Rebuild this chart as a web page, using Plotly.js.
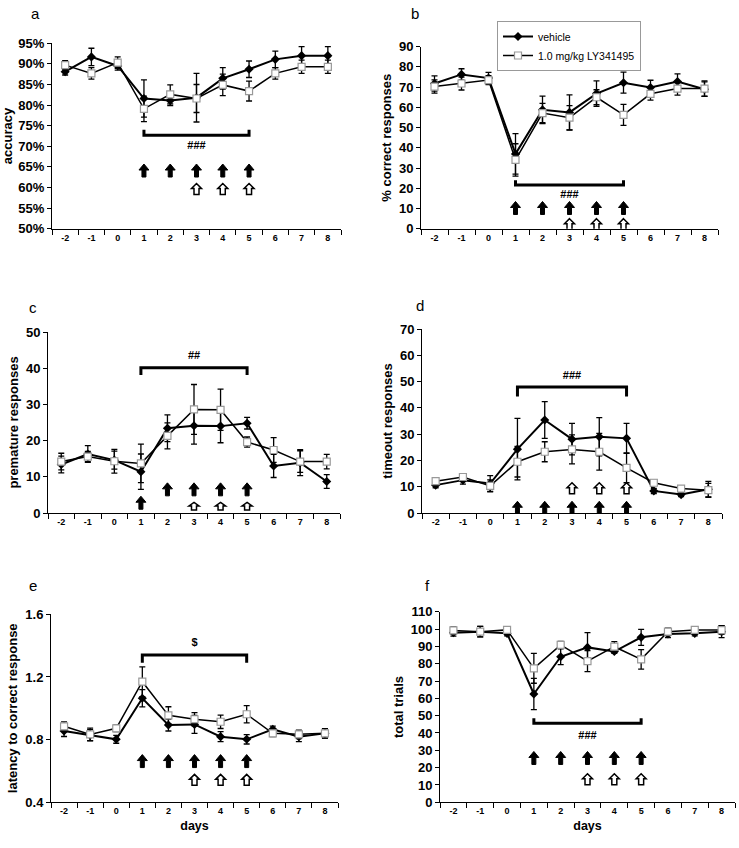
<!DOCTYPE html>
<html>
<head>
<meta charset="utf-8">
<script src="https://cdn.plot.ly/plotly-3.0.1.min.js"></script>
<style>html,body{margin:0;padding:0;background:#fff;}#chart{width:739px;height:848px;}</style>
</head>
<body>
<div id="chart"></div>
<script>
// ---------- data ----------
const days = [-2, -1, 0, 1, 2, 3, 4, 5, 6, 7, 8];
const seriesNames = ['vehicle', '1.0 mg/kg LY341495'];

const accuracyVeh    = [88.1, 91.7, 89.5, 81.6, 81.1, 81.8, 86.5, 88.7, 91.1, 92.0, 92.0];
const accuracyVehErr = [0.8, 2.1, 1.0, 4.5, 1.2, 5.9, 2.6, 2.0, 2.0, 2.2, 2.2];
const accuracyLY     = [89.7, 87.7, 90.3, 79.1, 82.6, 81.6, 84.9, 83.4, 87.7, 89.3, 89.3];
const accuracyLYErr  = [1.1, 1.4, 1.4, 3.1, 2.3, 3.4, 2.6, 2.4, 1.4, 1.6, 1.6];

const correctVeh    = [71.8, 76.3, 74.5, 37.0, 58.8, 57.5, 66.8, 72.2, 69.8, 72.8, 69.0];
const correctVehErr = [3.8, 2.8, 2.8, 10.0, 6.8, 8.7, 6.3, 5.2, 3.6, 3.8, 3.6];
const correctLY     = [70.3, 71.8, 73.5, 34.0, 57.2, 54.9, 65.0, 56.3, 66.7, 69.3, 69.3];
const correctLYErr  = [3.3, 3.2, 2.2, 8.0, 4.8, 6.0, 3.7, 5.2, 3.1, 3.2, 3.8];

const prematureVeh    = [13.4, 16.3, 14.6, 11.4, 23.4, 24.1, 24.0, 24.8, 13.0, 13.9, 8.7];
const prematureVehErr = [2.3, 2.3, 2.5, 4.9, 3.7, 5.1, 4.6, 1.6, 3.2, 3.6, 1.9];
const prematureLY     = [14.2, 15.6, 14.3, 13.7, 21.3, 28.6, 28.5, 19.6, 17.4, 14.2, 14.2];
const prematureLYErr  = [2.3, 1.4, 3.3, 5.3, 3.6, 6.9, 5.7, 1.4, 3.4, 3.0, 2.0];

const timeoutVeh    = [10.6, 12.5, 11.2, 24.3, 35.4, 28.1, 29.0, 28.4, 8.4, 7.0, 9.0];
const timeoutVehErr = [1.0, 1.5, 3.0, 11.7, 7.0, 6.0, 7.3, 5.7, 1.0, 0.8, 3.0];
const timeoutLY     = [12.1, 13.7, 10.3, 19.5, 23.3, 24.2, 23.3, 17.2, 11.5, 9.3, 8.7];
const timeoutLYErr  = [1.0, 1.2, 2.3, 5.8, 3.8, 5.5, 7.0, 5.7, 1.0, 0.8, 2.6];

const latencyVeh    = [0.855, 0.829, 0.802, 1.064, 0.893, 0.897, 0.819, 0.802, 0.866, 0.819, 0.840];
const latencyVehErr = [0.035, 0.035, 0.025, 0.055, 0.038, 0.057, 0.032, 0.030, 0.020, 0.032, 0.030];
const latencyLY     = [0.885, 0.833, 0.872, 1.170, 0.955, 0.930, 0.914, 0.962, 0.840, 0.834, 0.840];
const latencyLYErr  = [0.028, 0.040, 0.020, 0.095, 0.055, 0.042, 0.043, 0.055, 0.020, 0.027, 0.030];

const trialsVeh    = [97.9, 98.5, 97.5, 62.5, 84.0, 89.4, 87.0, 95.2, 97.1, 97.5, 98.5];
const trialsVehErr = [2.0, 3.0, 1.5, 9.0, 4.5, 8.5, 1.0, 4.6, 2.0, 1.5, 3.5];
const trialsLY     = [99.2, 98.5, 99.5, 77.3, 90.8, 81.5, 89.8, 82.5, 98.5, 99.5, 99.4];
const trialsLYErr  = [2.0, 3.0, 1.5, 8.6, 2.0, 6.1, 2.9, 5.6, 2.0, 1.5, 2.5];

const bracketDays = [1, 5];
const blackArrowDays = [1, 2, 3, 4, 5];
const whiteArrowDays = [3, 4, 5];

// ---------- styling / layout ----------
const W = 739, H = 848;
const FONT = 'Liberation Sans, Arial, sans-serif';
// arrow glyph outlines in pixels (relative to anchor)
const BLACK_ARROW = 'M0,7 L5,1 L2,1 L2,-6 L-2,-6 L-2,1 L-5,1 Z';
const WHITE_ARROW = 'M0,6 L5,1 L2.5,1 L2.5,-5 L-2.5,-5 L-2.5,1 L-5,1 Z';
const WHITE_ARROW_FLAT = 'M0,4 L5,0.5 L2.5,0.5 L2.5,-3.5 L-2.5,-3.5 L-2.5,0.5 L-5,0.5 Z';

const panels = [
  {id:'', letter:'a', lx:35, ly:13, title:'accuracy', veh:accuracyVeh, vehErr:accuracyVehErr, lyv:accuracyLY, lyErr:accuracyLYErr,
   px:[52,341], py:[43.3,228.7], range:[50,95], dtick:5, suffix:'%', fmt:'',
   br:{y:72.7, end:74.0, lab:'###', labY:69.9}, blackY:64.0, whiteY:59.5, xdays:false, legend:false},
  {id:'2', letter:'b', lx:415, ly:13, title:'% correct responses', veh:correctVeh, vehErr:correctVehErr, lyv:correctLY, lyErr:correctLYErr,
   px:[421,718], py:[46.7,228.7], range:[0,90], dtick:10, suffix:'', fmt:'',
   br:{y:21.6, end:24.0, lab:'###', labY:16.3}, blackY:10.0, whiteY:2.0, xdays:false, legend:true},
  {id:'3', letter:'c', lx:33, ly:307, title:'premature responses', veh:prematureVeh, vehErr:prematureVehErr, lyv:prematureLY, lyErr:prematureLYErr,
   px:[48,340], py:[332,513], range:[0,50], dtick:10, suffix:'', fmt:'',
   br:{y:40.1, end:38.1, lab:'##', labY:43.2}, blackY:6.4, blackY1:2.7, whiteY:1.8, flatWhite:true, xdays:false, legend:false},
  {id:'4', letter:'d', lx:420, ly:305, title:'timeout responses', veh:timeoutVeh, vehErr:timeoutVehErr, lyv:timeoutLY, lyErr:timeoutLYErr,
   px:[422,722], py:[329,513], range:[0,70], dtick:10, suffix:'', fmt:'',
   br:{y:47.9, end:44.3, lab:'###', labY:52.0}, blackY:1.8, whiteY:9.2, xdays:false, legend:false},
  {id:'5', letter:'e', lx:33, ly:585, title:'latency to correct response', veh:latencyVeh, vehErr:latencyVehErr, lyv:latencyLY, lyErr:latencyLYErr,
   px:[51,338], py:[614.3,802.3], range:[0.4,1.6], dtick:0.4, suffix:'', fmt:'.1f',
   br:{y:1.34, end:1.29, lab:'$', labY:1.415}, blackY:0.66, whiteY:0.54, xdays:true, legend:false},
  {id:'6', letter:'f', lx:427, ly:585, title:'total trials', veh:trialsVeh, vehErr:trialsVehErr, lyv:trialsLY, lyErr:trialsLYErr,
   px:[440,735], py:[611.7,802.3], range:[0,110], dtick:10, suffix:'', fmt:'',
   br:{y:45.6, end:48.5, lab:'###', labY:37.9}, blackY:25.3, whiteY:13.0, xdays:true, legend:false}
];

const traces = [];
const layout = {
  width: W, height: H,
  margin: {l:0, r:0, t:0, b:0},
  paper_bgcolor: '#fff', plot_bgcolor: '#fff',
  font: {family: FONT, color: '#000'},
  showlegend: true,
  legend: {x: 497/W, y: 1 - 21/H, xanchor: 'left', yanchor: 'top',
           bgcolor: '#fff', bordercolor: '#999', borderwidth: 1,
           font: {family: FONT, size: 10.5}, itemwidth: 30, tracegroupgap: 0},
  annotations: [],
  shapes: []
};

panels.forEach(p => {
  const xa = 'x' + p.id, ya = 'y' + p.id;
  layout['xaxis' + p.id] = {
    domain: [p.px[0]/W, p.px[1]/W], anchor: ya,
    type: 'linear', range: [days[0] - 0.5, days[days.length - 1] + 0.5],
    tickmode: 'array', tickvals: days, ticktext: days.map(String), ticks: '',
    minor: {tickmode: 'linear', tick0: days[0] - 0.5, dtick: 1, ticks: 'outside', ticklen: 5, tickwidth: 1, tickcolor: '#000'},
    showline: true, linecolor: '#000', linewidth: 1, showgrid: false, zeroline: false,
    tickfont: {family: FONT, size: 9, weight: 'bold'},
    title: p.xdays ? {text: 'days', font: {family: FONT, size: 12.5, weight: 'bold'}, standoff: 6} : {text: ''}
  };
  layout['yaxis' + p.id] = {
    domain: [1 - p.py[1]/H, 1 - p.py[0]/H], anchor: xa,
    range: p.range, dtick: p.dtick, tick0: p.range[0], ticksuffix: p.suffix, tickformat: p.fmt,
    ticks: 'outside', ticklen: 4, tickwidth: 1, tickcolor: '#000',
    showline: true, linecolor: '#000', linewidth: 1, showgrid: false, zeroline: false,
    tickfont: {family: FONT, size: 13, weight: 'bold'},
    title: {text: p.title, font: {family: FONT, size: 13, weight: 'bold'}, standoff: 4}
  };

  // vehicle
  traces.push({
    type: 'scatter', mode: 'lines+markers', x: days, y: p.veh, xaxis: xa, yaxis: ya,
    name: seriesNames[0], showlegend: p.legend, legendgroup: 'veh',
    line: {color: '#000', width: 2},
    marker: {symbol: 'diamond', size: 7, color: '#000'},
    error_y: {type: 'data', array: p.vehErr, visible: true, color: '#000', thickness: 1.3, width: 3},
    cliponaxis: false
  });
  // LY341495
  traces.push({
    type: 'scatter', mode: 'lines+markers', x: days, y: p.lyv, xaxis: xa, yaxis: ya,
    name: seriesNames[1], showlegend: p.legend, legendgroup: 'ly',
    line: {color: '#000', width: 1.5},
    marker: {symbol: 'square', size: 7, color: '#fff', line: {color: '#999', width: 1.2}},
    error_y: {type: 'data', array: p.lyErr, visible: true, color: '#000', thickness: 1.3, width: 3},
    cliponaxis: false
  });
  // bracket
  traces.push({
    type: 'scatter', mode: 'lines', xaxis: xa, yaxis: ya, showlegend: false, hoverinfo: 'skip',
    x: [bracketDays[0], bracketDays[0], bracketDays[1], bracketDays[1]],
    y: [p.br.end, p.br.y, p.br.y, p.br.end],
    line: {color: '#000', width: 3}
  });
  // bracket label
  traces.push({
    type: 'scatter', mode: 'text', xaxis: xa, yaxis: ya, showlegend: false, hoverinfo: 'skip',
    x: [(bracketDays[0] + bracketDays[1]) / 2], y: [p.br.labY], text: [p.br.lab],
    textfont: {family: FONT, size: 11, weight: 'bold', color: '#000'}
  });
  // black arrows (drug administration)
  blackArrowDays.forEach((d, i) => {
    layout.shapes.push({
      type: 'path', xref: xa, yref: ya, xsizemode: 'pixel', ysizemode: 'pixel',
      xanchor: d, yanchor: (p.blackY1 !== undefined && i === 0) ? p.blackY1 : p.blackY,
      path: BLACK_ARROW, fillcolor: '#000', line: {color: '#000', width: 1}, layer: 'above'
    });
  });
  // white arrows
  whiteArrowDays.forEach(d => {
    layout.shapes.push({
      type: 'path', xref: xa, yref: ya, xsizemode: 'pixel', ysizemode: 'pixel',
      xanchor: d, yanchor: p.whiteY,
      path: p.flatWhite ? WHITE_ARROW_FLAT : WHITE_ARROW, fillcolor: '#fff', line: {color: '#000', width: 1.5}, layer: 'above'
    });
  });
  layout.annotations.push({
    xref: 'paper', yref: 'paper', x: p.lx / W, y: 1 - p.ly / H,
    xanchor: 'center', yanchor: 'middle', showarrow: false,
    text: p.letter, font: {family: FONT, size: 15, color: '#000'}
  });
});

Plotly.newPlot('chart', traces, layout, {displayModeBar: false, staticPlot: true});
</script>
</body>
</html>
